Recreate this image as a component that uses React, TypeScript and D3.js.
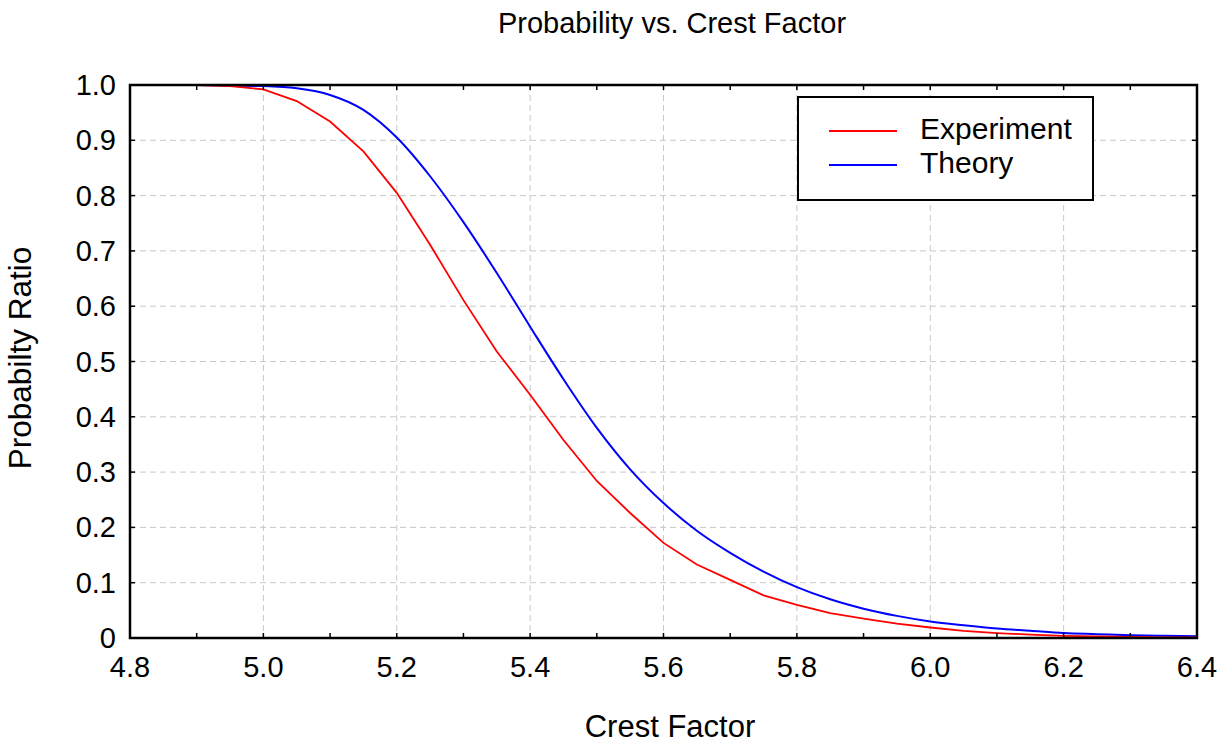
import React from "react";
import * as d3 from "d3";

const crestX = [
  4.8, 4.85, 4.9, 4.95, 5.0, 5.05, 5.1, 5.15, 5.2, 5.25, 5.3, 5.35, 5.4, 5.45, 5.5, 5.55, 5.6,
  5.65, 5.7, 5.75, 5.8, 5.85, 5.9, 5.95, 6.0, 6.05, 6.1, 6.15, 6.2, 6.25, 6.3, 6.35, 6.4,
];
const experiment = [
  1.0, 1.0, 1.0, 0.998, 0.992, 0.971, 0.934, 0.88, 0.805, 0.711, 0.611, 0.518, 0.44, 0.358,
  0.284, 0.226, 0.172, 0.133, 0.105, 0.077, 0.06, 0.045, 0.035, 0.026, 0.019, 0.013, 0.009,
  0.006, 0.004, 0.003, 0.002, 0.001, 0.001,
];
const theory = [
  1.0, 1.0, 1.0, 0.999, 0.998, 0.994, 0.982, 0.955, 0.905, 0.835, 0.752, 0.66, 0.563, 0.468,
  0.38, 0.305, 0.244, 0.194, 0.154, 0.12, 0.092, 0.07, 0.053, 0.04, 0.03, 0.023, 0.017, 0.013,
  0.009, 0.007, 0.005, 0.004, 0.003,
];
const xTicks = [4.8, 5.0, 5.2, 5.4, 5.6, 5.8, 6.0, 6.2, 6.4];
const yTicks = [0, 0.1, 0.2, 0.3, 0.4, 0.5, 0.6, 0.7, 0.8, 0.9, 1.0];
const seriesNames = ["Experiment", "Theory"];

const W = 1231;
const H = 746;
const left = 130;
const right = 1197;
const top = 85;
const bottom = 638;
const font = "'Liberation Sans', Arial, sans-serif";

export default function App() {
  const x = d3.scaleLinear().domain([4.8, 6.4]).range([left, right]);
  const y = d3.scaleLinear().domain([0, 1]).range([bottom, top]);
  const minorX = d3.range(0, 17).map((i) => 4.8 + i * 0.1);

  const mk = (vals: number[], curve: d3.CurveFactory) =>
    d3
      .line<number>()
      .x((_, i) => x(crestX[i]))
      .y((d) => y(d))
      .curve(curve)(vals) || "";

  const colors = ["#ff0000", "#0000ff"];

  return (
    <svg
      width={W}
      height={H}
      style={{ position: "absolute", left: 0, top: 0, background: "#fff" }}
      fontFamily={font}
    >
      {/* grid */}
      {xTicks.slice(1, -1).map((t) => (
        <line key={"gx" + t} x1={x(t)} x2={x(t)} y1={top} y2={bottom} stroke="#c8c8c8" strokeDasharray="6,4" strokeWidth={1} />
      ))}
      {yTicks.slice(1, -1).map((t) => (
        <line key={"gy" + t} x1={left} x2={right} y1={y(t)} y2={y(t)} stroke="#c8c8c8" strokeDasharray="6,4" strokeWidth={1} />
      ))}

      {/* series */}
      <path d={mk(theory, d3.curveMonotoneX)} fill="none" stroke={colors[1]} strokeWidth={2} />
      <path d={mk(experiment, d3.curveLinear)} fill="none" stroke={colors[0]} strokeWidth={1.8} />

      {/* ticks */}
      {minorX.map((t, i) => (
        <g key={"tx" + i}>
          <line x1={x(t)} x2={x(t)} y1={bottom} y2={bottom - 5} stroke="#000" strokeWidth={1.5} />
          <line x1={x(t)} x2={x(t)} y1={top} y2={top + 5} stroke="#000" strokeWidth={1.5} />
        </g>
      ))}
      {yTicks.map((t) => (
        <g key={"ty" + t}>
          <line x1={left} x2={left + 5} y1={y(t)} y2={y(t)} stroke="#000" strokeWidth={1.5} />
          <line x1={right} x2={right - 5} y1={y(t)} y2={y(t)} stroke="#000" strokeWidth={1.5} />
        </g>
      ))}

      {/* frame */}
      <rect x={left} y={top} width={right - left} height={bottom - top} fill="none" stroke="#000" strokeWidth={2.5} />

      {/* tick labels */}
      {xTicks.map((t) => (
        <text key={"lx" + t} x={x(t)} y={677} textAnchor="middle" fontSize={29}>
          {t.toFixed(1)}
        </text>
      ))}
      {yTicks.map((t) => (
        <text key={"ly" + t} x={116} y={y(t) + 10} textAnchor="end" fontSize={29}>
          {t === 0 ? "0" : t.toFixed(1)}
        </text>
      ))}

      {/* titles */}
      <text x={672} y={33} textAnchor="middle" fontSize={29}>
        Probability vs. Crest Factor
      </text>
      <text x={670} y={737} textAnchor="middle" fontSize={31}>
        Crest Factor
      </text>
      <text transform={`translate(31, 358) rotate(-90)`} textAnchor="middle" fontSize={31.5}>
        Probabilty Ratio
      </text>

      {/* legend */}
      <rect x={798} y={97} width={295} height={103} fill="#fff" stroke="#000" strokeWidth={2} />
      {seriesNames.map((n, i) => (
        <g key={n}>
          <line x1={829} x2={897} y1={131 + i * 34} y2={131 + i * 34} stroke={colors[i]} strokeWidth={2} />
          <text x={920} y={139 + i * 34} fontSize={30}>
            {n}
          </text>
        </g>
      ))}
    </svg>
  );
}
